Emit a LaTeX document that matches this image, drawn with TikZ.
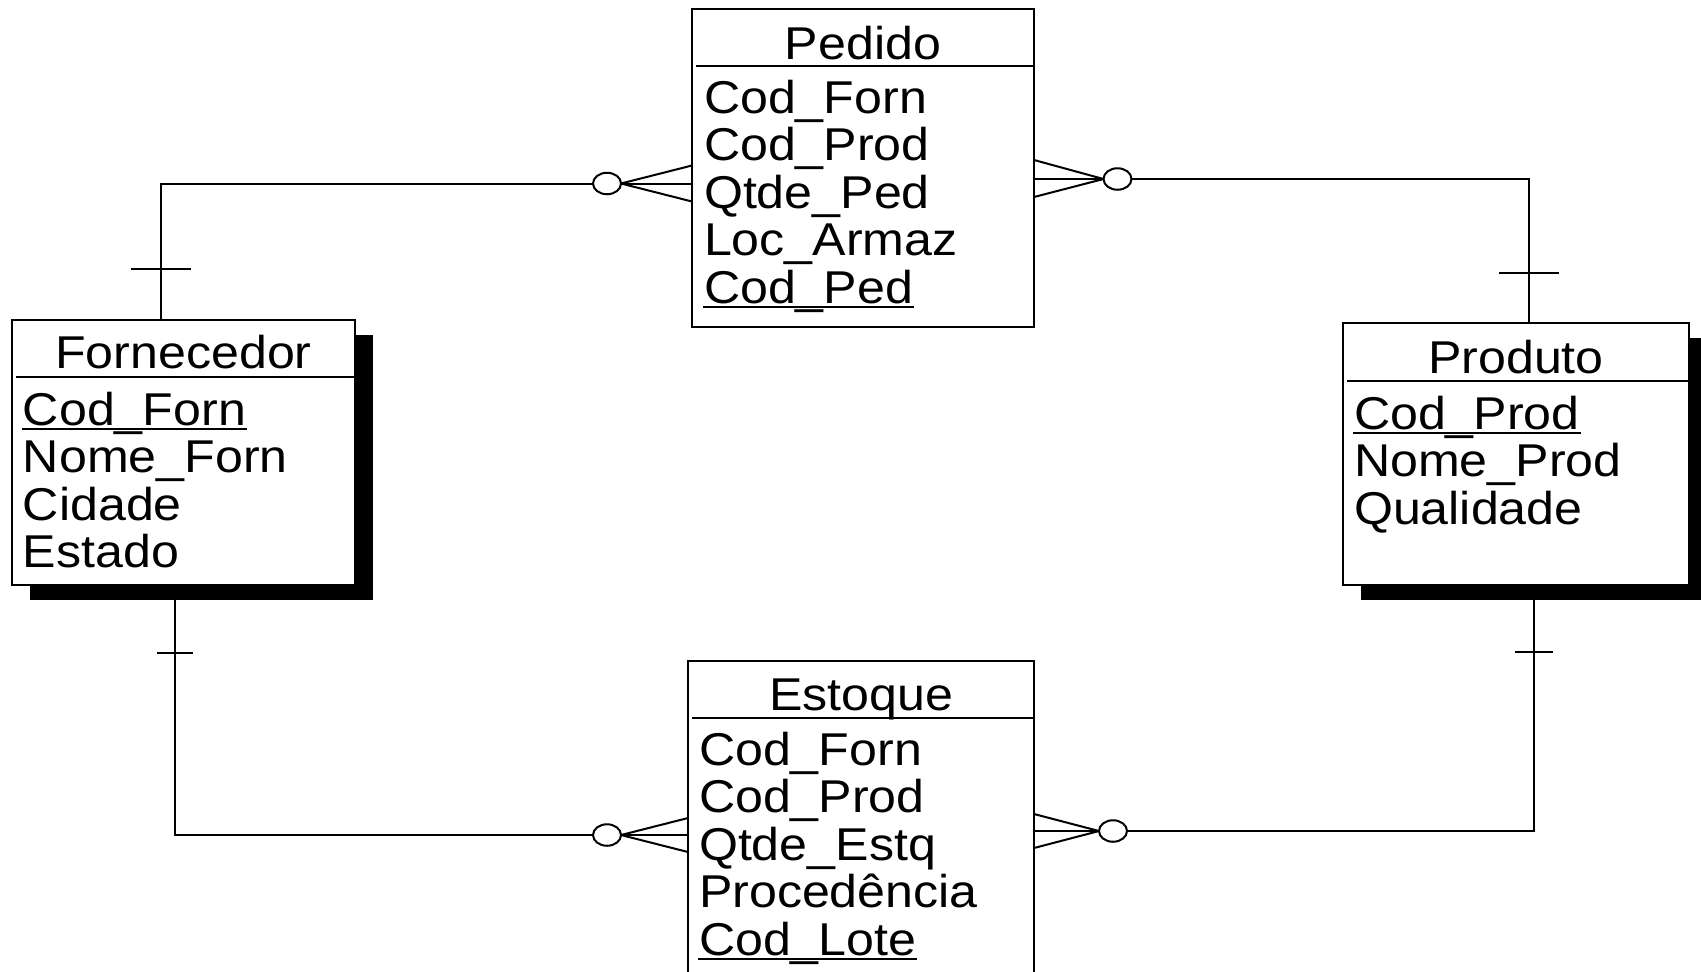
\documentclass[tikz,border=0pt]{standalone}
\usepackage{fontspec}
\usepackage{graphicx}
\setmainfont{Liberation Sans}
\usetikzlibrary{shapes.geometric,calc}
\newcommand{\sx}[1]{\scalebox{1.09}[1]{#1}}
\begin{document}
\begin{tikzpicture}[x=0.5pt,y=-0.5pt,line width=1pt,
  entbox/.style={draw,fill=white,rectangle,anchor=north west,inner sep=0,outer sep=0},
  ttl/.style={anchor=base,inner sep=0,font=\fontsize{23}{24}\selectfont},
  att/.style={anchor=base west,inner sep=0,font=\fontsize{23}{24}\selectfont},
  keyline/.style={line width=1pt},
  opt/.style={draw,ellipse,fill=white,inner sep=0,outer sep=0,minimum width=14pt,minimum height=10.75pt},
  ]
\clip (0,0) rectangle (1701,971);

% ---------- Fornecedor ----------
\fill[black] (30,335) rectangle (373,600);
\node[entbox,minimum width=171.5pt,minimum height=132.5pt] (forn) at (12,320) {};
\node[ttl] (fornT) at (183.5,368) {\sx{Fornecedor}};
\draw (16,377) -- (355,377);
\node[att] (f1) at (22,425) {\sx{Cod\_Forn}};
\node[att] (f2) at (22,472.5) {\sx{Nome\_Forn}};
\node[att] (f3) at (22,520) {\sx{Cidade}};
\node[att] (f4) at (22,567.5) {\sx{Estado}};
\draw[keyline] ([yshift=-2pt]f1.base west) -- ([yshift=-2pt]f1.base east);

% ---------- Pedido ----------
\node[entbox,minimum width=171pt,minimum height=159pt] (ped) at (692,9) {};
\node[ttl] (pedT) at (863,59) {\sx{Pedido}};
\draw (696,66) -- (1034,66);
\node[att] (p1) at (703,113) {\sx{Cod\_Forn}};
\node[att] (p2) at (703,160.5) {\sx{Cod\_Prod}};
\node[att] (p3) at (703,208) {\sx{Qtde\_Ped}};
\node[att] (p4) at (703,255.5) {\sx{Loc\_Armaz}};
\node[att] (p5) at (703,303) {\sx{Cod\_Ped}};
\draw[keyline] ([yshift=-2pt]p5.base west) -- ([yshift=-2pt]p5.base east);

% ---------- Produto ----------
\fill[black] (1361,338) rectangle (1707,600);
\node[entbox,minimum width=173pt,minimum height=131pt] (prod) at (1343,323) {};
\node[ttl] (prodT) at (1516,373) {\sx{Produto}};
\draw (1347,381) -- (1689,381);
\node[att] (r1) at (1353,429) {\sx{Cod\_Prod}};
\node[att] (r2) at (1353,476.5) {\sx{Nome\_Prod}};
\node[att] (r3) at (1353,524) {\sx{Qualidade}};
\draw[keyline] ([yshift=-2pt]r1.base west) -- ([yshift=-2pt]r1.base east);

% ---------- Estoque ----------
\node[entbox,minimum width=173pt,minimum height=169.5pt] (est) at (688,661) {};
\node[ttl] (estT) at (861,710) {\sx{Estoque}};
\draw (692,718) -- (1034,718);
\node[att] (e1) at (698,765) {\sx{Cod\_Forn}};
\node[att] (e2) at (698,812.5) {\sx{Cod\_Prod}};
\node[att] (e3) at (698,860) {\sx{Qtde\_Estq}};
\node[att] (e4) at (698,907.5) {\sx{Procedência}};
\node[att] (e5) at (698,955) {\sx{Cod\_Lote}};
\draw[keyline] ([yshift=-2pt]e5.base west) -- ([yshift=-2pt]e5.base east);

% ---------- Fornecedor -- Pedido ----------
\coordinate (fTop) at (160.7,320);
\node[opt] (o1) at (607,183.5) {};
\draw (o1.west) -| (fTop);
\draw (130.7,269) -- (190.7,269);
\draw (o1.east) -- (ped.west |- o1);
\draw (o1.east) -- ($(ped.west |- o1)+(0,-18)$);
\draw (o1.east) -- ($(ped.west |- o1)+(0,18)$);

% ---------- Pedido -- Produto ----------
\coordinate (pTop) at (1529,323);
\node[opt] (o2) at (1117.5,179) {};
\draw (o2.east) -| (pTop);
\draw (1499,273) -- (1559,273);
\draw (o2.west) -- (ped.east |- o2);
\draw (o2.west) -- ($(ped.east |- o2)+(0,-19)$);
\draw (o2.west) -- ($(ped.east |- o2)+(0,18)$);

% ---------- Fornecedor -- Estoque ----------
\coordinate (fBot) at (174.6,600);
\node[opt] (o3) at (607,835) {};
\draw (o3.west) -| (fBot);
\draw (157,652.7) -- (193,652.7);
\draw (o3.east) -- (est.west |- o3);
\draw (o3.east) -- ($(est.west |- o3)+(0,-17)$);
\draw (o3.east) -- ($(est.west |- o3)+(0,17)$);

% ---------- Produto -- Estoque ----------
\coordinate (pBot) at (1534,600);
\node[opt] (o4) at (1113,831) {};
\draw (o4.east) -| (pBot);
\draw (1515,652) -- (1553,652);
\draw (o4.west) -- (est.east |- o4);
\draw (o4.west) -- ($(est.east |- o4)+(0,-17)$);
\draw (o4.west) -- ($(est.east |- o4)+(0,17)$);
\end{tikzpicture}
\end{document}
